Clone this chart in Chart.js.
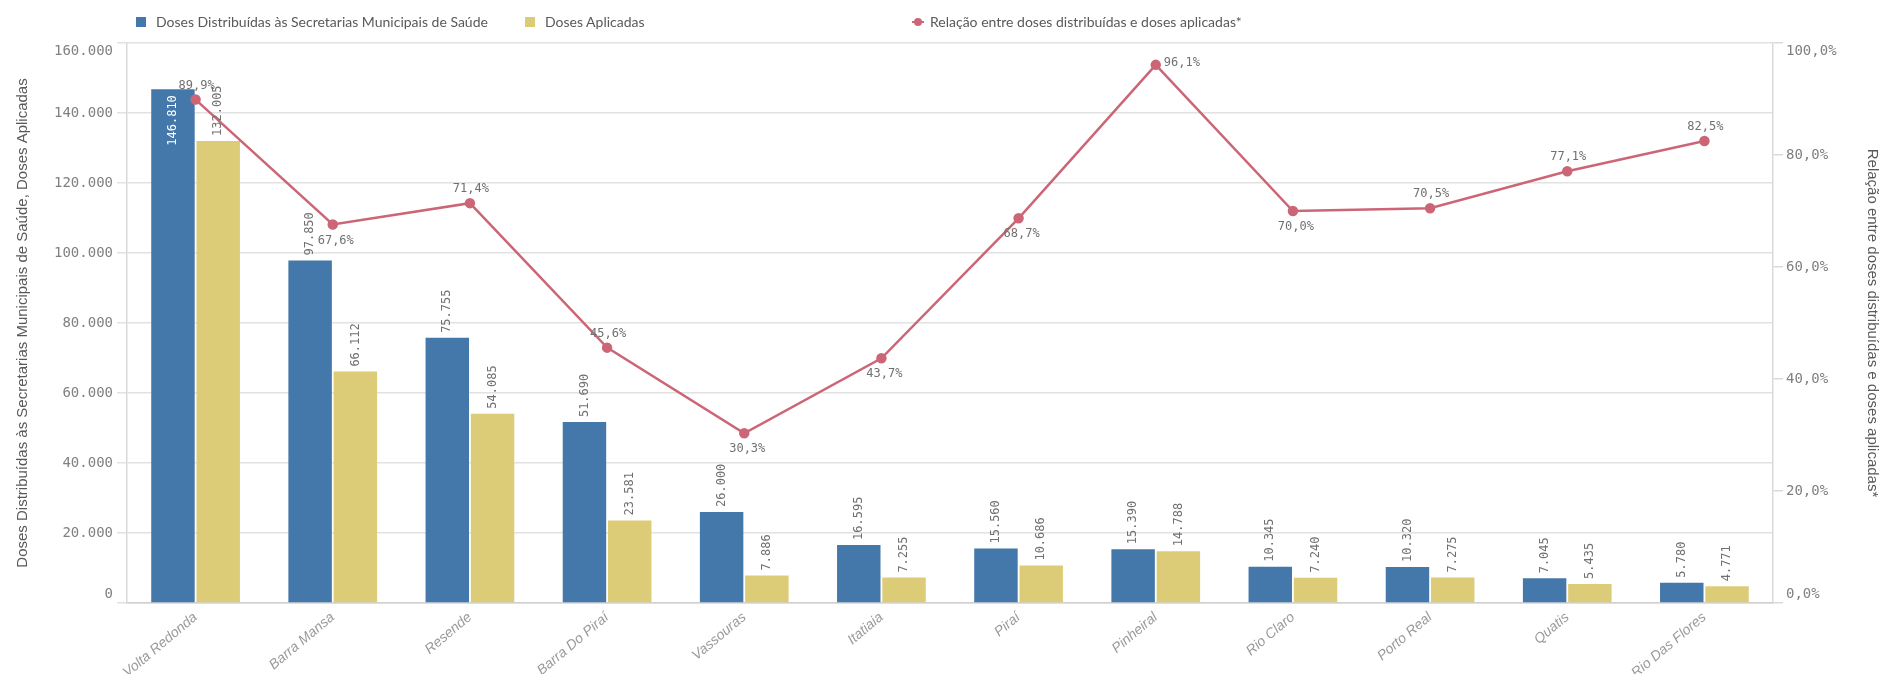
<!DOCTYPE html>
<html lang="pt-BR">
<head>
<meta charset="utf-8">
<title>Doses distribuídas x aplicadas</title>
<script src="https://cdn.jsdelivr.net/npm/chart.js@4.4.1/dist/chart.umd.min.js"></script>
<style>
  body { margin: 0; background: #fff; }
  #wrap { position: relative; width: 1881px; height: 674px; }
  .legenda {
    position: absolute;
    top: 13px;
    font: 14px Lato, "Liberation Sans", sans-serif;
    color: #595959;
    display: flex;
    align-items: center;
    white-space: nowrap;
  }
  .quad { width: 10px; height: 10px; margin-right: 10px; }
  .marca { position: relative; width: 12px; height: 10px; margin-right: 6px; }
  .marca::before { content: ''; position: absolute; left: 0; right: 0; top: 4px; height: 2px; background: #cc6677; }
  .marca::after { content: ''; position: absolute; left: 2px; top: 1px; width: 8px; height: 8px; border-radius: 50%; background: #cc6677; }
</style>
</head>
<body>
<div id="wrap">
  <canvas id="grafico" width="1881" height="674"></canvas>
  <div class="legenda" style="left:136px"><span class="quad" style="background:#4477aa"></span>Doses Distribuídas às Secretarias Municipais de Saúde</div>
  <div class="legenda" style="left:525px"><span class="quad" style="background:#ddcc77"></span>Doses Aplicadas</div>
  <div class="legenda" style="left:912px"><span class="marca"></span>Relação entre doses distribuídas e doses aplicadas*</div>
</div>
<script>
// DADOS
const municipios = [
  'Volta Redonda', 'Barra Mansa', 'Resende', 'Barra Do Piraí', 'Vassouras', 'Itatiaia',
  'Piraí', 'Pinheiral', 'Rio Claro', 'Porto Real', 'Quatis', 'Rio Das Flores'
];
const dosesDistribuidas = [146810, 97850, 75755, 51690, 26000, 16595, 15560, 15390, 10345, 10320, 7045, 5780];
const dosesAplicadas = [132005, 66112, 54085, 23581, 7886, 7255, 10686, 14788, 7240, 7275, 5435, 4771];
const relacao = [89.9, 67.6, 71.4, 45.6, 30.3, 43.7, 68.7, 96.1, 70.0, 70.5, 77.1, 82.5];

// EIXOS
const maxDoses = 160000;
const passoDoses = 20000;
const maxRelacao = 100;
const passoRelacao = 20;

// onde fica o rótulo de cada ponto da linha
const posicaoRotulos = ['acima', 'abaixo', 'acima', 'acima', 'abaixo', 'abaixo', 'abaixo', 'direita', 'abaixo', 'acima', 'acima', 'acima'];

const MONO = '"DejaVu Sans Mono", "Liberation Mono", monospace';
const SANS = '"Liberation Sans", Arial, sans-serif';

function formatarMil(v) {
  return String(Math.round(v)).replace(/\B(?=(\d{3})+(?!\d))/g, '.');
}

function formatarPct(v) {
  return v.toFixed(1).replace('.', ',') + '%';
}

// rótulos das pontas do eixo ficam para dentro (como no Qlik)
function rotuloEixo(txt, v, max) {
  if (v === max) return ['', txt];
  if (v === 0) return [txt, ''];
  return txt;
}

// RÓTULOS DAS BARRAS E DA LINHA
const rotulos = {
  id: 'rotulos',
  afterDatasetsDraw(chart) {
    const ctx = chart.ctx;
    const area = chart.chartArea;
    ctx.save();
    ctx.font = '12px ' + MONO;

    [0, 1].forEach(i => {
      const meta = chart.getDatasetMeta(i);
      meta.data.forEach((bar, j) => {
        const txt = formatarMil(chart.data.datasets[i].data[j]);
        const w = ctx.measureText(txt).width;
        ctx.save();
        ctx.translate(bar.x, bar.y);
        ctx.rotate(-Math.PI / 2);
        ctx.textBaseline = 'middle';
        if (bar.y - 6 - w < area.top) {
          ctx.textAlign = 'right';
          ctx.fillStyle = '#ffffff';
          ctx.fillText(txt, -6, 0);
        } else {
          ctx.textAlign = 'left';
          ctx.fillStyle = '#707070';
          ctx.fillText(txt, 5, 0);
        }
        ctx.restore();
      });
    });

    const metaLinha = chart.getDatasetMeta(2);
    ctx.fillStyle = '#707070';
    ctx.textBaseline = 'middle';
    metaLinha.data.forEach((p, j) => {
      const txt = formatarPct(relacao[j]);
      const pos = posicaoRotulos[j];
      if (pos === 'direita') {
        ctx.textAlign = 'left';
        ctx.fillText(txt, p.x + 8, p.y - 2);
      } else if (pos === 'acima') {
        ctx.textAlign = 'center';
        ctx.fillText(txt, p.x + 1, p.y - 14);
      } else {
        ctx.textAlign = 'center';
        ctx.fillText(txt, p.x + 3, p.y + 16);
      }
    });
    ctx.restore();
  }
};

new Chart(document.getElementById('grafico').getContext('2d'), {
  type: 'bar',
  data: {
    labels: municipios,
    datasets: [
      {
        label: 'Doses Distribuídas às Secretarias Municipais de Saúde',
        data: dosesDistribuidas,
        backgroundColor: '#4477aa',
        yAxisID: 'y',
        order: 1,
        barPercentage: 0.96,
        categoryPercentage: 0.66
      },
      {
        label: 'Doses Aplicadas',
        data: dosesAplicadas,
        backgroundColor: '#ddcc77',
        yAxisID: 'y',
        order: 1,
        barPercentage: 0.96,
        categoryPercentage: 0.66
      },
      {
        type: 'line',
        label: 'Relação entre doses distribuídas e doses aplicadas*',
        data: relacao,
        borderColor: '#cc6677',
        backgroundColor: '#cc6677',
        borderWidth: 2.5,
        pointRadius: 4,
        pointHoverRadius: 4,
        tension: 0,
        yAxisID: 'y1',
        order: 0
      }
    ]
  },
  options: {
    responsive: false,
    animation: false,
    layout: { padding: { top: 43, left: 0, right: 0, bottom: 0 } },
    plugins: {
      legend: { display: false },
      tooltip: { enabled: false }
    },
    scales: {
      x: {
        grid: { display: false, drawTicks: false },
        border: { display: true, color: '#d0d0d0', width: 1.5 },
        ticks: {
          color: '#9a9a9a',
          font: { family: SANS, size: 14, style: 'italic' },
          minRotation: 40,
          maxRotation: 40,
          padding: 6,
          autoSkip: false
        },
        afterFit: scale => { scale.height = 71; }
      },
      y: {
        position: 'left',
        min: 0,
        max: maxDoses,
        ticks: {
          stepSize: passoDoses,
          color: '#808080',
          font: { family: MONO, size: 14 },
          padding: 4,
          callback: v => rotuloEixo(formatarMil(v), v, maxDoses)
        },
        grid: { color: '#e2e2e2', lineWidth: 1.5, tickLength: 10 },
        border: { display: true, color: '#dadada', width: 1.5 },
        title: {
          display: true,
          text: 'Doses Distribuídas às Secretarias Municipais de Saúde, Doses Aplicadas',
          color: '#595959',
          font: { family: SANS, size: 15 },
          padding: { top: 14, bottom: 0 }
        },
        afterFit: scale => { scale.width = 127; }
      },
      y1: {
        position: 'right',
        min: 0,
        max: maxRelacao,
        ticks: {
          stepSize: passoRelacao,
          color: '#808080',
          font: { family: MONO, size: 14 },
          padding: 3,
          callback: v => rotuloEixo(formatarPct(v), v, maxRelacao)
        },
        grid: { drawOnChartArea: false, color: '#dadada', lineWidth: 1.5, tickLength: 10 },
        border: { display: true, color: '#dadada', width: 1.5 },
        title: {
          display: true,
          text: 'Relação entre doses distribuídas e doses aplicadas*',
          color: '#595959',
          font: { family: SANS, size: 15 },
          padding: { top: 0, bottom: 10 }
        },
        afterFit: scale => { scale.width = 108; }
      }
    }
  },
  plugins: [rotulos]
});
</script>
</body>
</html>
